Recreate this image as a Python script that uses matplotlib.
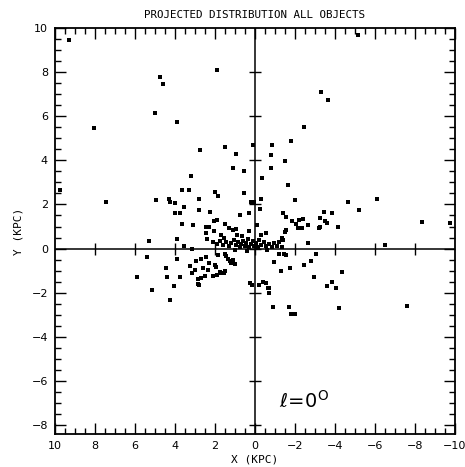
import numpy as np
import matplotlib
matplotlib.use('Agg')
import matplotlib.pyplot as plt
from matplotlib.ticker import MultipleLocator

# projected positions (kpc)
x_outer = [9.3, 8.05, 4.75, 4.6, 5.0, 3.9, 1.9, 2.75, 1.5, 0.95, 0.1,
           -5.15, -3.3, -3.65, -2.45, -1.8, -0.85, -0.8, 9.75, 7.45]
y_outer = [9.45, 5.45, 7.8, 7.45, 6.15, 5.75, 8.1, 4.45, 4.6, 4.3, 4.7,
           9.7, 7.1, 6.75, 5.5, 4.9, 4.7, 4.25, 2.65, 2.1]

x_upleft = [1.1, 0.55, 3.2, 3.65, 3.3, 2.0, 1.85, 0.55, 4.95, 4.3, 4.25, 4.0,
            3.55, 2.8, 2.8, 4.0, 3.75, 2.25, 0.75, 0.3, 0.2, 3.65, 3.1, 2.05,
            1.9, 2.45, 2.3, 1.5, 1.3, 1.1, 0.95, 0.3, 2.05, 2.45, 1.7, 2.4,
            5.3, 3.9, 3.55, 3.15]
y_upleft = [3.65, 3.5, 3.3, 2.65, 2.65, 2.55, 2.4, 2.5, 2.2, 2.25, 2.1, 2.05,
            1.9, 2.25, 1.75, 1.6, 1.6, 1.65, 1.5, 1.6, 2.1, 1.1, 1.05, 1.25,
            1.3, 1.0, 1.0, 1.1, 0.95, 0.85, 0.9, 0.8, 0.8, 0.7, 0.6, 0.45,
            0.35, 0.45, 0.1, 0.0]

x_upright = [-1.5, -0.8, -0.35, -1.65, -0.3, 0.05, -0.25, -2.0, -4.65, -6.1,
             -5.2, -3.45, -3.85, -1.4, -1.55, -1.85, -2.05, -2.2, -2.4, -2.15,
             -2.35, -2.65, -3.25, -3.5, -3.6, -3.25, -3.2, -4.15, -8.35, -9.75,
             -6.5, -2.65, -1.55, -1.5, -1.35, -1.4, -0.55, -0.1]
y_upright = [3.95, 3.65, 3.2, 2.9, 2.25, 2.1, 1.8, 2.2, 2.1, 2.25,
             1.75, 1.65, 1.6, 1.6, 1.45, 1.25, 1.1, 1.3, 1.35, 0.95,
             0.95, 1.05, 1.4, 1.25, 1.15, 1.0, 0.95, 1.0, 1.2, 1.15,
             0.15, 0.25, 0.85, 0.75, 0.5, 0.4, 0.7, 1.05]

x_core = [2.1, 1.9, 1.75, 1.6, 1.45, 1.3, 1.2, 1.05, 0.95, 0.85, 0.75, 0.7,
          0.6, 0.5, 0.45, 0.35, 0.3, 0.2, 0.1, 0.05, -0.05, -0.15, -0.2, -0.3,
          -0.45, -0.55, -0.7, -0.85, -0.95, -1.1, -1.2, -1.35, 1.0, 0.4, -0.6,
          1.55, 0.65, -0.3, 0.9]
y_core = [0.3, 0.2, 0.35, 0.15, 0.3, 0.1, 0.25, 0.4, 0.15, 0.3, 0.05, 0.2,
          0.35, 0.1, 0.25, 0.45, 0.05, 0.2, 0.35, 0.1, 0.25, 0.05, 0.4, 0.15,
          0.3, 0.1, 0.2, 0.05, 0.25, 0.1, 0.3, 0.05, -0.05, -0.1, -0.05,
          0.5, 0.55, 0.6, 0.6]

x_low = [5.4, 3.9, 4.45, 5.9, 5.15, 4.4, 4.05, 4.25, 3.75, 3.25, 3.15, 2.85,
         2.8, 2.7, 2.5, 2.1, 1.9, 1.75, 1.55, 2.95, 2.7, 2.45, 2.3, 1.85, 1.5,
         1.45, 1.35, 1.25, 1.1, 1.2, 1.0, 2.0, 1.95, 2.6, 2.35, 3.0, 1.5, 1.75,
         2.85, 0.25, 0.15, -0.2, -0.4, -0.55, -0.65, -0.7, -0.7, -0.9, -1.7,
         -1.8, -2.0, -1.3, -2.95, -3.6, -3.85, -4.05, -4.35, -4.2, -7.6, -1.2,
         -1.45, -1.55, -0.95, -3.05, -2.8, -2.45, -1.75]
y_low = [-0.4, -0.45, -0.9, -1.3, -1.9, -1.3, -1.7, -2.35, -1.3, -0.8, -1.1,
         -1.4, -1.65, -1.35, -1.25, -1.25, -1.2, -1.05, -1.1, -0.55, -0.45,
         -0.4, -0.65, -0.3, -0.25, -0.35, -0.45, -0.55, -0.5, -0.65, -0.7,
         -0.75, -0.85, -0.9, -0.95, -0.95, -1.0, -1.1, -1.6, -1.55, -1.65,
         -1.65, -1.5, -1.55, -1.8, -1.8, -2.0, -2.65, -2.65, -2.95, -2.95,
         -1.0, -1.3, -1.7, -1.5, -1.8, -1.05, -2.7, -2.6, -0.25, -0.25, -0.3,
         -0.6, -0.25, -0.55, -0.75, -0.9]

xs = x_outer + x_upleft + x_upright + x_core + x_low
ys = y_outer + y_upleft + y_upright + y_core + y_low

fig = plt.figure(figsize=(4.65, 4.67), dpi=100)
ax = fig.add_axes([0.118, 0.071, 0.860, 0.869])

ax.scatter(xs, ys, marker='s', s=7, color='black', linewidths=0)

ax.set_xlim(10, -10)
ax.set_ylim(-8.4, 10)

# cross through origin with its own ticks
ax.axhline(0, color='black', lw=1.1)
ax.axvline(0, color='black', lw=1.1)
tx = np.arange(-8, 10, 2)
ax.plot(tx, np.zeros_like(tx), ls='none', marker='|', ms=8, mew=1, color='black')
ty = np.arange(-8, 10, 2)
ax.plot(np.zeros_like(ty), ty, ls='none', marker='_', ms=8, mew=1, color='black')

ax.xaxis.set_major_locator(MultipleLocator(2))
ax.xaxis.set_minor_locator(MultipleLocator(0.5))
ax.yaxis.set_major_locator(MultipleLocator(2))
ax.yaxis.set_minor_locator(MultipleLocator(0.5))
ax.tick_params(which='both', direction='in', top=True, right=True, width=1)
ax.tick_params(which='major', length=8, labelsize=8, pad=5)
ax.tick_params(which='minor', length=4)
for s in ax.spines.values():
    s.set_linewidth(1.3)

ax.set_xlabel('X (KPC)', fontsize=8, family='DejaVu Sans Mono', labelpad=3)
ax.set_ylabel('Y (KPC)', fontsize=8, family='DejaVu Sans Mono', labelpad=6)
ax.set_title('PROJECTED DISTRIBUTION ALL OBJECTS', fontsize=7.8,
             family='DejaVu Sans Mono', pad=7)

ax.text(-1.2, -6.9, r'$\ell\!=\!0^{\rm O}$', fontsize=14, va='center', ha='left')

fig.savefig('out.png', dpi=100)
